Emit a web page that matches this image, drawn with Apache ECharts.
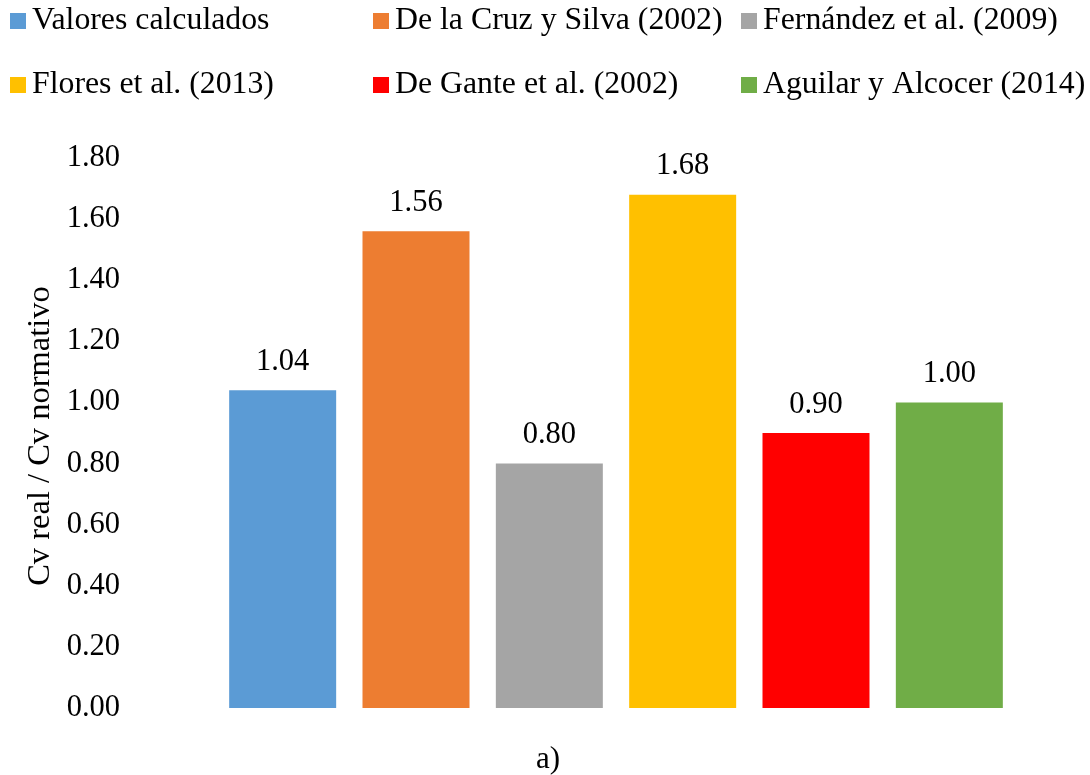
<!DOCTYPE html>
<html>
<head>
<meta charset="utf-8">
<script src="https://cdn.jsdelivr.net/npm/echarts@6/dist/echarts.min.js"></script>
<style>html,body{margin:0;padding:0;background:#fff}#c{width:1090px;height:775px}</style>
</head>
<body>
<div id="c"></div>
<script>
const seriesNames = ['Valores calculados','De la Cruz y Silva (2002)','Fernández et al. (2009)','Flores et al. (2013)','De Gante et al. (2002)','Aguilar y Alcocer (2014)'];
const values = [1.04, 1.56, 0.80, 1.68, 0.90, 1.00];
const colors = ['#5B9BD5','#ED7D31','#A5A5A5','#FFC000','#FF0000','#70AD47'];
const yTicks = [0, 0.2, 0.4, 0.6, 0.8, 1.0, 1.2, 1.4, 1.6, 1.8];

const FONT = "'Liberation Serif','Times New Roman',serif";
const chart = echarts.init(document.getElementById('c'));

const legendPos = [
  {left: 10, top: 5}, {left: 373, top: 5}, {left: 741, top: 5},
  {left: 10, top: 69}, {left: 373, top: 69}, {left: 741, top: 69}
];

const series = seriesNames.map((n, i) => ({
  name: n,
  type: 'bar',
  barWidth: 107,
  barGap: '-100%',
  itemStyle: {color: colors[i]},
  label: {show: true, position: 'top', distance: 13, formatter: p => p.value.toFixed(2), fontFamily: FONT, fontSize: 30.5, color: '#000'},
  data: values.map((v, j) => j === i ? v : '-')
}));

chart.setOption({
  animation: false,
  textStyle: {fontFamily: FONT},
  legend: seriesNames.map((n, i) => ({
    data: [n], left: legendPos[i].left, top: legendPos[i].top, padding: 0,
    icon: 'rect', itemWidth: 16, itemHeight: 16,
    textStyle: {fontFamily: FONT, fontSize: 31.8, color: '#000', padding: [0,0,0,1]}
  })),
  grid: {left: 216, right: 74, top: 158, bottom: 67},
  xAxis: {
    type: 'category', data: seriesNames,
    axisLine: {show: false}, axisTick: {show: false}, axisLabel: {show: false}, splitLine: {show: false}
  },
  yAxis: {
    type: 'value', min: yTicks[0], max: yTicks[yTicks.length - 1], interval: 0.2,
    axisLine: {show: false}, axisTick: {show: false}, splitLine: {show: false},
    axisLabel: {margin: 96, fontFamily: FONT, fontSize: 30.5, color: '#000', formatter: v => v.toFixed(2)}
  },
  graphic: [
    {type: 'text', x: 40, y: 436, rotation: Math.PI/2,
     style: {text: 'Cv real / Cv normativo', fontFamily: FONT, fontSize: 32.5, fill: '#000', textAlign: 'center', textVerticalAlign: 'middle'}},
    {type: 'text', x: 548, y: 760,
     style: {text: 'a)', fontFamily: FONT, fontSize: 31, fill: '#000', textAlign: 'center', textVerticalAlign: 'middle'}}
  ],
  series: series
});
</script>
</body>
</html>
